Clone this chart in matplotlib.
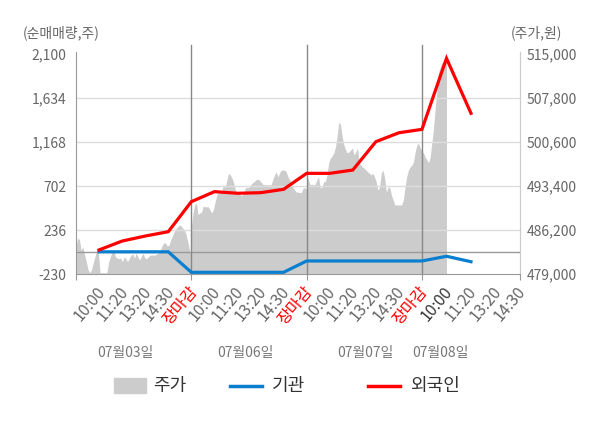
import matplotlib
matplotlib.use("Agg")
import matplotlib.pyplot as plt
import numpy as np
from matplotlib.lines import Line2D
from matplotlib.patches import Rectangle
from matplotlib.transforms import ScaledTranslation, blended_transform_factory

plt.rcParams["font.family"] = ["Noto Sans CJK KR", "DejaVu Sans"]

# ----------------------------------------------------
# Data
# ----------------------------------------------------

tick_labels = ["10:00", "11:20", "13:20", "14:30", "장마감"] * 3 + \
    ["10:00", "11:20", "13:20", "14:30"]
day_labels = ["07월03일", "07월06일", "07월07일", "07월08일"]

# net buying (shares), one value per time tick
foreign = [25, 119, 172, 218, 536, 642, 625, 631, 667, 836, 836, 871,
           1171, 1266, 1302, 2054, 1472]
institution = [5, 5, 5, 5, -212, -212, -212, -212, -212, -92, -92, -92,
               -92, -92, -92, -42, -100]

# share price (won), intraday per day
price_day1 = [483700, 484900, 484600, 482900, 483400, 482100, 481000, 479700,
              479200, 479700, 480800, 481800, 482800, 482400, 479200, 479200,
              479200, 479200, 479300, 481000, 481900, 482600, 482600, 481800,
              481600, 481500, 481600, 481000, 481800, 481500, 481000, 481600,
              482100, 482300, 481600, 482400, 481800, 481300, 481900, 482400,
              481600, 481500, 481800, 482100, 482100, 482100, 482100, 482300,
              482400, 482900, 483600, 484100, 484100, 483600, 483700, 484600,
              485200, 485900, 486400, 486700, 487000, 486900, 486500, 486200,
              485400, 484200, 482900, 481800]
price_day2 = [486700, 489000, 490300, 490600, 488700, 489000, 489100, 490100,
              490000, 490000, 490000, 489500, 489000, 489500, 490800, 491900,
              492300, 492400, 492700, 493600, 493200, 494400, 495500, 495200,
              494700, 493900, 492700, 492400, 492300, 491900, 491900, 492400,
              493200, 493100, 493200, 493600, 493900, 494100, 494400, 494500,
              494400, 494100, 493700, 493600, 493600, 493600, 493600, 493600,
              494400, 495200, 495700, 494900, 495500, 496000, 496000, 496000,
              495700, 494900, 494400, 493900, 493100, 492700, 492400, 492400,
              492300, 492400, 493100, 493100, 492900]
price_day3 = [495200, 494400, 493600, 493700, 493600, 493700, 494400, 494900,
              493100, 493200, 494100, 494100, 495200, 497200, 498000, 498300,
              498800, 499800, 501600, 503900, 503400, 501400, 500100, 499300,
              498800, 499000, 499300, 499600, 498500, 499000, 499600, 497200,
              496800, 496500, 496300, 496000, 495700, 495500, 495200, 495500,
              494900, 494100, 492700, 493200, 495500, 496000, 494700, 492400,
              493200, 493200, 491900, 491100, 490300, 490300, 490300, 490300,
              490300, 491100, 493200, 494900, 496000, 496500, 496800, 497300,
              499000, 500100, 500400, 499600, 499300]
price_day4 = [499000, 498800, 498100, 497700, 497200, 498100, 500400, 502600,
              505800, 508600, 511900, 512700, 513500, 513700, 514000, 514000]

left_ticks = [-230, 236, 702, 1168, 1634, 2100]
right_ticks = [479000, 486200, 493400, 500600, 507800, 515000]

# ----------------------------------------------------
# Axis positions (categorical slots)
# ----------------------------------------------------

day_starts = [0, 5, 10, 15]
day_widths = [5, 5, 5, 4.25]
x_end = day_starts[-1] + day_widths[-1]

tick_pos = []
for start, width, n in zip(day_starts, day_widths, [5, 5, 5, 4]):
    for k in range(1, n + 1):
        tick_pos.append(start + width * k / n)
tick_pos = np.array(tick_pos)

price_x = []
price_y = []
for i, day in enumerate([price_day1, price_day2, price_day3, price_day4]):
    end = day_starts[i] + day_widths[i] if i < 3 else tick_pos[15]
    price_x.extend(np.linspace(day_starts[i], end, len(day)))
    price_y.extend(day)

# ----------------------------------------------------
# Figure
# ----------------------------------------------------

W, H = 600, 428
fig = plt.figure(figsize=(W / 100, H / 100), dpi=100)
ax = fig.add_axes([76 / W, (H - 274) / H, 444 / W, 222 / H])
ax2 = ax.twinx()
ax.set_zorder(ax2.get_zorder() + 1)
ax.patch.set_visible(False)
ax2.patch.set_facecolor("#f5f5f5")

ax.set_xlim(0, x_end)
ax.set_ylim(-230, -230 + 2330 * 222 / 220)
ax2.set_ylim(479000, 479000 + 36000 * 222 / 220)

# price area
ax2.fill_between(price_x, price_y, 470000, color="#cccccc", lw=0)

# grid
for v in left_ticks[1:-1]:
    ax.axhline(v, color="#dddddd", lw=1, zorder=1)
ax.axhline(0, color="#999999", lw=1, zorder=2)

# day separators
for s in day_starts[1:]:
    ax.axvline(s, ymin=0, ymax=1.032, color="#888888", lw=1,
               clip_on=False, zorder=2)

# lines
ax.plot(tick_pos[:len(institution)], institution, color="#0a7fcf",
        lw=2.3, zorder=4, solid_joinstyle="miter")
ax.plot(tick_pos[:len(foreign)], foreign, color="#ff0000",
        lw=2.3, zorder=5, solid_joinstyle="miter")

# spines
for a in (ax, ax2):
    a.spines["top"].set_visible(False)
ax.spines["left"].set_color("#999999")
ax.spines["bottom"].set_color("#999999")
ax.spines["right"].set_color("#cccccc")
ax2.spines["left"].set_visible(False)
ax2.spines["bottom"].set_visible(False)
ax2.spines["right"].set_color("#cccccc")

# y ticks
ax.set_yticks(left_ticks)
ax.set_yticklabels([f"{v:,}" for v in left_ticks])
ax.tick_params(axis="y", length=0, pad=7, labelsize=10, labelcolor="#666666")
ax2.set_yticks(right_ticks)
ax2.set_yticklabels([f"{v:,}" for v in right_ticks])
ax2.tick_params(axis="y", length=0, pad=5, labelsize=10, labelcolor="#666666")

# x ticks: only day boundary marks, labels drawn as rotated text
ax.set_xticks(day_starts + [x_end])
ax.set_xticklabels([])
ax.tick_params(axis="x", length=4, color="#999999")

label_trans = blended_transform_factory(ax.transData, ax.transAxes) + \
    ScaledTranslation(0.03, -0.145, fig.dpi_scale_trans)
for i, (pos, txt) in enumerate(zip(tick_pos, tick_labels)):
    if txt == "장마감":
        color = "#ff0000"
    elif i == 15:
        color = "#333333"
    else:
        color = "#666666"
    ax.text(pos, 0, txt, transform=label_trans, rotation=50,
            rotation_mode="anchor", ha="right", va="center",
            fontsize=11.5, color=color, clip_on=False)

# day labels
trans = blended_transform_factory(ax.transData, fig.transFigure)
for pos, txt in zip([2.12, 7.33, 12.53, 15.78], day_labels):
    fig.text(pos, (H - 353) / H, txt, transform=trans, ha="center",
             va="center", fontsize=10, color="#777777")

# axis titles
fig.text(61 / W, (H - 33) / H, "(순매매량,주)", ha="center", va="center",
         fontsize=10, color="#666666")
fig.text(536 / W, (H - 33) / H, "(주가,원)", ha="center", va="center",
         fontsize=10, color="#666666")

# ----------------------------------------------------
# Legend
# ----------------------------------------------------

ly = (H - 386) / H
fig.patches.append(Rectangle((114 / W, (H - 393) / H), 32 / W, 15 / H,
                             transform=fig.transFigure, color="#cccccc"))
fig.text(153 / W, ly, "주가", ha="left", va="center", fontsize=13,
         color="#333333")
fig.lines.append(Line2D([230 / W, 262 / W], [ly, ly], color="#0a7fcf",
                        lw=2.5, transform=fig.transFigure))
fig.text(272 / W, ly, "기관", ha="left", va="center", fontsize=13,
         color="#333333")
fig.lines.append(Line2D([368 / W, 400 / W], [ly, ly], color="#ff0000",
                        lw=2.5, transform=fig.transFigure))
fig.text(410 / W, ly, "외국인", ha="left", va="center", fontsize=13,
         color="#333333")

fig.savefig("out.png", dpi=100)
